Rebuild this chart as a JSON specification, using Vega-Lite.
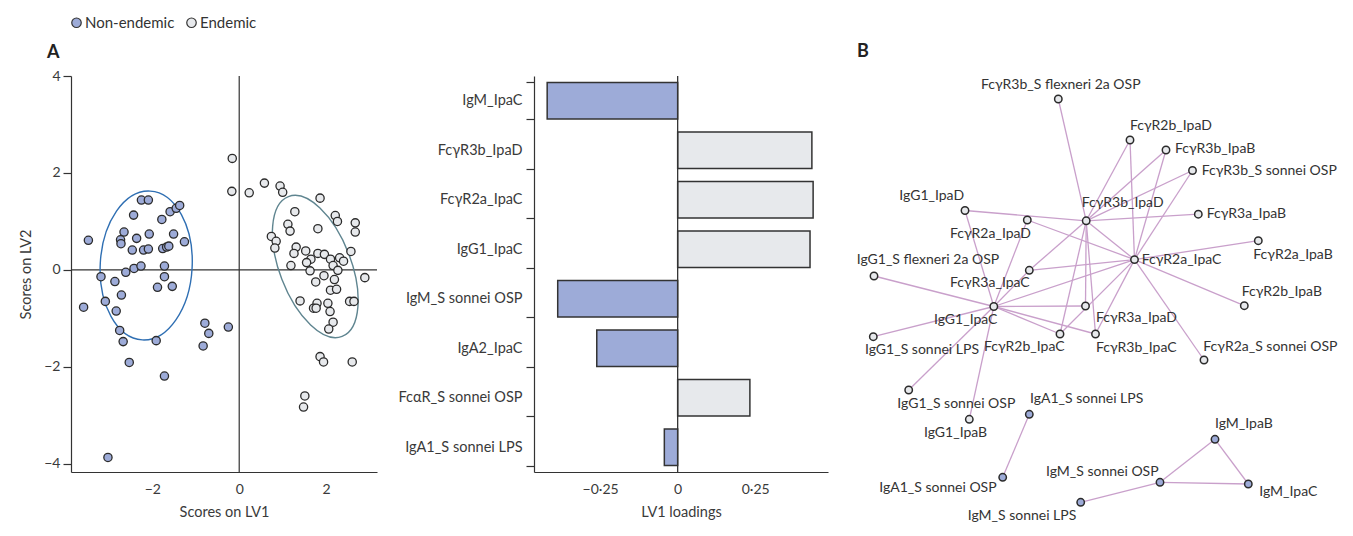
{
  "$schema": "https://vega.github.io/schema/vega-lite/v6.json",
  "background": "white",
  "padding": {"left": 18, "top": 15, "right": 5, "bottom": 5},
  "autosize": {"type": "pad"},
  "config": {
    "font": "Lato",
    "view": {"stroke": null},
    "axis": {"labelFont": "Lato", "titleFont": "Lato", "labelColor": "#3a3a3a", "titleColor": "#3a3a3a", "domainColor": "#333333", "tickColor": "#333333", "domainWidth": 1.2, "tickWidth": 1.2, "grid": false, "labelFontSize": 14, "titleFontSize": 14.5, "titleFontWeight": "normal"}
  },
  "datasets": {
    "scores": [
      {"lv1": -3.47, "lv2": 0.61, "group": "Non-endemic"},
      {"lv1": -2.25, "lv2": 1.44, "group": "Non-endemic"},
      {"lv1": -2.09, "lv2": 1.44, "group": "Non-endemic"},
      {"lv1": -2.43, "lv2": 1.13, "group": "Non-endemic"},
      {"lv1": -1.78, "lv2": 1.04, "group": "Non-endemic"},
      {"lv1": -1.59, "lv2": 1.2, "group": "Non-endemic"},
      {"lv1": -1.45, "lv2": 1.27, "group": "Non-endemic"},
      {"lv1": -1.37, "lv2": 1.33, "group": "Non-endemic"},
      {"lv1": -2.65, "lv2": 0.78, "group": "Non-endemic"},
      {"lv1": -2.73, "lv2": 0.62, "group": "Non-endemic"},
      {"lv1": -2.72, "lv2": 0.54, "group": "Non-endemic"},
      {"lv1": -2.36, "lv2": 0.65, "group": "Non-endemic"},
      {"lv1": -2.07, "lv2": 0.74, "group": "Non-endemic"},
      {"lv1": -1.51, "lv2": 0.74, "group": "Non-endemic"},
      {"lv1": -1.26, "lv2": 0.58, "group": "Non-endemic"},
      {"lv1": -2.46, "lv2": 0.41, "group": "Non-endemic"},
      {"lv1": -2.2, "lv2": 0.41, "group": "Non-endemic"},
      {"lv1": -2.09, "lv2": 0.43, "group": "Non-endemic"},
      {"lv1": -1.76, "lv2": 0.44, "group": "Non-endemic"},
      {"lv1": -1.67, "lv2": 0.47, "group": "Non-endemic"},
      {"lv1": -1.62, "lv2": 0.49, "group": "Non-endemic"},
      {"lv1": -3.18, "lv2": -0.14, "group": "Non-endemic"},
      {"lv1": -2.61, "lv2": -0.05, "group": "Non-endemic"},
      {"lv1": -2.42, "lv2": 0.03, "group": "Non-endemic"},
      {"lv1": -2.26, "lv2": 0.08, "group": "Non-endemic"},
      {"lv1": -1.72, "lv2": 0.08, "group": "Non-endemic"},
      {"lv1": -1.72, "lv2": -0.14, "group": "Non-endemic"},
      {"lv1": -2.86, "lv2": -0.24, "group": "Non-endemic"},
      {"lv1": -1.88, "lv2": -0.36, "group": "Non-endemic"},
      {"lv1": -1.54, "lv2": -0.34, "group": "Non-endemic"},
      {"lv1": -2.71, "lv2": -0.52, "group": "Non-endemic"},
      {"lv1": -3.08, "lv2": -0.65, "group": "Non-endemic"},
      {"lv1": -3.58, "lv2": -0.77, "group": "Non-endemic"},
      {"lv1": -2.83, "lv2": -0.85, "group": "Non-endemic"},
      {"lv1": -2.75, "lv2": -1.25, "group": "Non-endemic"},
      {"lv1": -2.67, "lv2": -1.48, "group": "Non-endemic"},
      {"lv1": -2.53, "lv2": -1.91, "group": "Non-endemic"},
      {"lv1": -1.91, "lv2": -1.46, "group": "Non-endemic"},
      {"lv1": -1.72, "lv2": -2.19, "group": "Non-endemic"},
      {"lv1": -3.02, "lv2": -3.87, "group": "Non-endemic"},
      {"lv1": -0.79, "lv2": -1.1, "group": "Non-endemic"},
      {"lv1": -0.7, "lv2": -1.31, "group": "Non-endemic"},
      {"lv1": -0.83, "lv2": -1.57, "group": "Non-endemic"},
      {"lv1": -0.25, "lv2": -1.18, "group": "Non-endemic"},
      {"lv1": -0.16, "lv2": 2.3, "group": "Endemic"},
      {"lv1": -0.17, "lv2": 1.62, "group": "Endemic"},
      {"lv1": 0.23, "lv2": 1.59, "group": "Endemic"},
      {"lv1": 0.58, "lv2": 1.79, "group": "Endemic"},
      {"lv1": 0.94, "lv2": 1.73, "group": "Endemic"},
      {"lv1": 1.0, "lv2": 1.6, "group": "Endemic"},
      {"lv1": 1.86, "lv2": 1.48, "group": "Endemic"},
      {"lv1": 1.28, "lv2": 1.2, "group": "Endemic"},
      {"lv1": 2.21, "lv2": 1.12, "group": "Endemic"},
      {"lv1": 2.26, "lv2": 1.0, "group": "Endemic"},
      {"lv1": 2.67, "lv2": 0.97, "group": "Endemic"},
      {"lv1": 2.67, "lv2": 0.78, "group": "Endemic"},
      {"lv1": 1.12, "lv2": 0.94, "group": "Endemic"},
      {"lv1": 1.17, "lv2": 0.8, "group": "Endemic"},
      {"lv1": 1.81, "lv2": 0.85, "group": "Endemic"},
      {"lv1": 0.74, "lv2": 0.69, "group": "Endemic"},
      {"lv1": 0.85, "lv2": 0.59, "group": "Endemic"},
      {"lv1": 0.82, "lv2": 0.45, "group": "Endemic"},
      {"lv1": 1.31, "lv2": 0.47, "group": "Endemic"},
      {"lv1": 1.26, "lv2": 0.34, "group": "Endemic"},
      {"lv1": 1.53, "lv2": 0.39, "group": "Endemic"},
      {"lv1": 1.81, "lv2": 0.34, "group": "Endemic"},
      {"lv1": 1.96, "lv2": 0.32, "group": "Endemic"},
      {"lv1": 1.65, "lv2": 0.22, "group": "Endemic"},
      {"lv1": 1.55, "lv2": 0.15, "group": "Endemic"},
      {"lv1": 2.1, "lv2": 0.22, "group": "Endemic"},
      {"lv1": 2.31, "lv2": 0.25, "group": "Endemic"},
      {"lv1": 2.4, "lv2": 0.18, "group": "Endemic"},
      {"lv1": 2.57, "lv2": 0.38, "group": "Endemic"},
      {"lv1": 1.19, "lv2": 0.09, "group": "Endemic"},
      {"lv1": 2.16, "lv2": 0.09, "group": "Endemic"},
      {"lv1": 1.63, "lv2": -0.02, "group": "Endemic"},
      {"lv1": 2.27, "lv2": -0.01, "group": "Endemic"},
      {"lv1": 1.95, "lv2": -0.12, "group": "Endemic"},
      {"lv1": 2.19, "lv2": -0.2, "group": "Endemic"},
      {"lv1": 1.76, "lv2": -0.25, "group": "Endemic"},
      {"lv1": 2.89, "lv2": -0.16, "group": "Endemic"},
      {"lv1": 2.1, "lv2": -0.42, "group": "Endemic"},
      {"lv1": 2.24, "lv2": -0.4, "group": "Endemic"},
      {"lv1": 1.4, "lv2": -0.64, "group": "Endemic"},
      {"lv1": 1.79, "lv2": -0.69, "group": "Endemic"},
      {"lv1": 1.71, "lv2": -0.79, "group": "Endemic"},
      {"lv1": 1.77, "lv2": -0.79, "group": "Endemic"},
      {"lv1": 2.04, "lv2": -0.69, "group": "Endemic"},
      {"lv1": 2.09, "lv2": -0.86, "group": "Endemic"},
      {"lv1": 2.54, "lv2": -0.65, "group": "Endemic"},
      {"lv1": 2.64, "lv2": -0.65, "group": "Endemic"},
      {"lv1": 2.16, "lv2": -1.08, "group": "Endemic"},
      {"lv1": 2.06, "lv2": -1.22, "group": "Endemic"},
      {"lv1": 1.86, "lv2": -1.79, "group": "Endemic"},
      {"lv1": 1.94, "lv2": -1.9, "group": "Endemic"},
      {"lv1": 2.6, "lv2": -1.9, "group": "Endemic"},
      {"lv1": 1.51, "lv2": -2.6, "group": "Endemic"},
      {"lv1": 1.48, "lv2": -2.83, "group": "Endemic"}
    ],
    "ellipses": [
      {"lv1": -2.14, "lv2": 0.09, "group": "Non-endemic"},
      {"lv1": 1.75, "lv2": 0.07, "group": "Endemic"}
    ],
    "loadings": [
      {"feature": "IgM_IpaC", "loading": -0.421, "assoc": "Non-endemic"},
      {"feature": "FcγR3b_IpaD", "loading": 0.433, "assoc": "Endemic"},
      {"feature": "FcγR2a_IpaC", "loading": 0.437, "assoc": "Endemic"},
      {"feature": "IgG1_IpaC", "loading": 0.427, "assoc": "Endemic"},
      {"feature": "IgM_S sonnei OSP", "loading": -0.387, "assoc": "Non-endemic"},
      {"feature": "IgA2_IpaC", "loading": -0.261, "assoc": "Non-endemic"},
      {"feature": "FcαR_S sonnei OSP", "loading": 0.233, "assoc": "Endemic"},
      {"feature": "IgA1_S sonnei LPS", "loading": -0.043, "assoc": "Non-endemic"}
    ],
    "nodes": [
      {"id": "FcγR3b_S flexneri 2a OSP", "x": 20.83, "y": 42.1, "lx": 13.1, "ly": 43.5, "group": "Endemic"},
      {"id": "FcγR2b_IpaD", "x": 28.0, "y": 38.0, "lx": 28.0, "ly": 39.43, "group": "Endemic"},
      {"id": "FcγR3b_IpaB", "x": 31.6, "y": 37.0, "lx": 32.5, "ly": 37.07, "group": "Endemic"},
      {"id": "FcγR3b_S sonnei OSP", "x": 34.25, "y": 34.95, "lx": 35.17, "ly": 34.93, "group": "Endemic"},
      {"id": "IgG1_IpaD", "x": 11.5, "y": 30.95, "lx": 4.93, "ly": 32.43, "group": "Endemic"},
      {"id": "FcγR3b_IpaD", "x": 23.62, "y": 29.92, "lx": 23.17, "ly": 31.67, "group": "Endemic"},
      {"id": "FcγR2a_IpaD", "x": 17.73, "y": 30.0, "lx": 10.0, "ly": 28.6, "group": "Endemic"},
      {"id": "FcγR3a_IpaB", "x": 34.83, "y": 30.58, "lx": 35.67, "ly": 30.57, "group": "Endemic"},
      {"id": "FcγR2a_IpaB", "x": 40.83, "y": 27.93, "lx": 40.33, "ly": 26.47, "group": "Endemic"},
      {"id": "FcγR2a_IpaC", "x": 28.45, "y": 26.04, "lx": 29.17, "ly": 26.0, "group": "Endemic"},
      {"id": "IgG1_S flexneri 2a OSP", "x": 2.4, "y": 24.4, "lx": 0.67, "ly": 26.0, "group": "Endemic"},
      {"id": "FcγR3a_IpaC", "x": 17.93, "y": 24.97, "lx": 10.0, "ly": 23.67, "group": "Endemic"},
      {"id": "FcγR2b_IpaB", "x": 39.43, "y": 21.43, "lx": 39.17, "ly": 22.83, "group": "Endemic"},
      {"id": "IgG1_IpaC", "x": 14.38, "y": 21.35, "lx": 8.4, "ly": 20.0, "group": "Endemic"},
      {"id": "FcγR3a_IpaD", "x": 23.55, "y": 21.4, "lx": 24.6, "ly": 20.17, "group": "Endemic"},
      {"id": "FcγR2b_IpaC", "x": 21.0, "y": 18.6, "lx": 13.4, "ly": 17.27, "group": "Endemic"},
      {"id": "FcγR3b_IpaC", "x": 24.55, "y": 18.6, "lx": 24.6, "ly": 17.17, "group": "Endemic"},
      {"id": "IgG1_S sonnei LPS", "x": 2.33, "y": 18.33, "lx": 1.5, "ly": 17.0, "group": "Endemic"},
      {"id": "FcγR2a_S sonnei OSP", "x": 35.4, "y": 16.0, "lx": 35.33, "ly": 17.33, "group": "Endemic"},
      {"id": "IgG1_S sonnei OSP", "x": 5.87, "y": 13.0, "lx": 4.73, "ly": 11.6, "group": "Endemic"},
      {"id": "IgG1_IpaB", "x": 11.93, "y": 10.07, "lx": 7.4, "ly": 8.73, "group": "Endemic"},
      {"id": "IgA1_S sonnei LPS", "x": 17.93, "y": 10.57, "lx": 18.0, "ly": 12.1, "group": "Non-endemic"},
      {"id": "IgM_IpaB", "x": 36.5, "y": 8.07, "lx": 36.5, "ly": 9.57, "group": "Non-endemic"},
      {"id": "IgA1_S sonnei OSP", "x": 15.27, "y": 4.27, "lx": 2.93, "ly": 3.17, "group": "Non-endemic"},
      {"id": "IgM_S sonnei OSP", "x": 31.0, "y": 3.77, "lx": 19.6, "ly": 4.83, "group": "Non-endemic"},
      {"id": "IgM_IpaC", "x": 39.83, "y": 3.6, "lx": 40.93, "ly": 2.77, "group": "Non-endemic"},
      {"id": "IgM_S sonnei LPS", "x": 23.07, "y": 1.77, "lx": 11.77, "ly": 0.43, "group": "Non-endemic"}
    ],
    "edges": [
      {"s": "FcγR3b_S flexneri 2a OSP", "t": "FcγR3b_IpaD"},
      {"s": "FcγR2b_IpaD", "t": "FcγR3b_IpaD"},
      {"s": "FcγR2b_IpaD", "t": "FcγR2a_IpaC"},
      {"s": "FcγR3b_IpaB", "t": "FcγR3b_IpaD"},
      {"s": "FcγR3b_IpaB", "t": "FcγR2a_IpaC"},
      {"s": "FcγR3b_S sonnei OSP", "t": "FcγR3b_IpaD"},
      {"s": "FcγR3b_S sonnei OSP", "t": "FcγR2a_IpaC"},
      {"s": "FcγR3a_IpaB", "t": "FcγR3b_IpaD"},
      {"s": "IgG1_IpaD", "t": "FcγR3b_IpaD"},
      {"s": "IgG1_IpaD", "t": "IgG1_IpaC"},
      {"s": "FcγR2a_IpaD", "t": "FcγR2a_IpaC"},
      {"s": "FcγR2a_IpaD", "t": "IgG1_IpaC"},
      {"s": "FcγR3b_IpaD", "t": "FcγR2a_IpaC"},
      {"s": "FcγR3b_IpaD", "t": "FcγR3a_IpaC"},
      {"s": "FcγR3a_IpaC", "t": "IgG1_IpaC"},
      {"s": "FcγR3b_IpaD", "t": "FcγR3a_IpaD"},
      {"s": "FcγR3b_IpaD", "t": "FcγR2b_IpaC"},
      {"s": "FcγR3b_IpaD", "t": "FcγR3b_IpaC"},
      {"s": "FcγR3a_IpaC", "t": "FcγR2a_IpaC"},
      {"s": "FcγR2a_IpaC", "t": "FcγR2a_IpaB"},
      {"s": "FcγR2a_IpaC", "t": "FcγR2b_IpaB"},
      {"s": "FcγR2a_IpaC", "t": "FcγR2a_S sonnei OSP"},
      {"s": "FcγR2a_IpaC", "t": "FcγR3b_IpaC"},
      {"s": "FcγR2a_IpaC", "t": "FcγR2b_IpaC"},
      {"s": "FcγR2a_IpaC", "t": "IgG1_IpaC"},
      {"s": "IgG1_IpaC", "t": "FcγR3a_IpaD"},
      {"s": "IgG1_IpaC", "t": "FcγR2b_IpaC"},
      {"s": "IgG1_IpaC", "t": "FcγR3b_IpaC"},
      {"s": "IgG1_IpaC", "t": "IgG1_S flexneri 2a OSP"},
      {"s": "IgG1_IpaC", "t": "IgG1_S sonnei LPS"},
      {"s": "IgG1_IpaC", "t": "IgG1_S sonnei OSP"},
      {"s": "IgG1_IpaC", "t": "IgG1_IpaB"},
      {"s": "IgA1_S sonnei LPS", "t": "IgA1_S sonnei OSP"},
      {"s": "IgM_IpaB", "t": "IgM_S sonnei OSP"},
      {"s": "IgM_IpaB", "t": "IgM_IpaC"},
      {"s": "IgM_S sonnei OSP", "t": "IgM_IpaC"},
      {"s": "IgM_S sonnei OSP", "t": "IgM_S sonnei LPS"}
    ]
  },
  "hconcat": [
    {
      "width": 306,
      "height": 396,
      "title": {"text": "A", "anchor": "start", "frame": "group", "dx": -24, "offset": -11, "baseline": "bottom", "fontSize": 18, "fontWeight": "bold", "color": "#222222", "font": "Lato"},
      "layer": [
        {
          "data": {"values": [{"lv1": 0, "lv2": 0}]},
          "mark": {"type": "rule", "color": "#333333", "strokeWidth": 1.2},
          "encoding": {
            "y": {"field": "lv2", "type": "quantitative", "scale": {"domain": [-4.17, 4], "nice": false, "zero": false}, "axis": {"values": [-4, -2, 0, 2, 4], "tickSize": 8, "labelPadding": 3, "title": "Scores on LV2", "titlePadding": 10}}
          }
        },
        {
          "data": {"values": [{"lv1": 0, "lv2": 0}]},
          "mark": {"type": "rule", "color": "#333333", "strokeWidth": 1.2},
          "encoding": {
            "x": {"field": "lv1", "type": "quantitative", "scale": {"domain": [-3.87, 3.17], "nice": false, "zero": false}, "axis": {"values": [-2, 0, 2], "ticks": false, "tickSize": 0, "labelPadding": 10, "title": "Scores on LV1", "titlePadding": 9}}
          }
        },
        {
          "data": {"name": "ellipses"},
          "transform": [{"filter": "datum.group == 'Non-endemic'"}],
          "mark": {"type": "point", "shape": "M0,-1C0.341,-1 0.617,-0.552 0.617,0C0.617,0.552 0.341,1 0,1C-0.341,1 -0.617,0.552 -0.617,0C-0.617,-0.552 -0.341,-1 0,-1Z", "size": 22201, "angle": 3, "filled": false, "stroke": "#2f6fb3", "strokeWidth": 1.4, "opacity": 1},
          "encoding": {
            "x": {"field": "lv1", "type": "quantitative", "scale": {"domain": [-3.87, 3.17], "nice": false, "zero": false}, "axis": {"values": [-2, 0, 2], "ticks": false, "tickSize": 0, "labelPadding": 10, "title": "Scores on LV1", "titlePadding": 9}},
            "y": {"field": "lv2", "type": "quantitative", "scale": {"domain": [-4.17, 4], "nice": false, "zero": false}, "axis": {"values": [-4, -2, 0, 2, 4], "tickSize": 8, "labelPadding": 3, "title": "Scores on LV2", "titlePadding": 10}}
          }
        },
        {
          "data": {"name": "ellipses"},
          "transform": [{"filter": "datum.group == 'Endemic'"}],
          "mark": {"type": "point", "shape": "M0,-1C0.264,-1 0.478,-0.552 0.478,0C0.478,0.552 0.264,1 0,1C-0.264,1 -0.478,0.552 -0.478,0C-0.478,-0.552 -0.264,-1 0,-1Z", "size": 22440, "angle": 339, "filled": false, "stroke": "#5f8590", "strokeWidth": 1.4, "opacity": 1},
          "encoding": {
            "x": {"field": "lv1", "type": "quantitative", "scale": {"domain": [-3.87, 3.17], "nice": false, "zero": false}, "axis": {"values": [-2, 0, 2], "ticks": false, "tickSize": 0, "labelPadding": 10, "title": "Scores on LV1", "titlePadding": 9}},
            "y": {"field": "lv2", "type": "quantitative", "scale": {"domain": [-4.17, 4], "nice": false, "zero": false}, "axis": {"values": [-4, -2, 0, 2, 4], "tickSize": 8, "labelPadding": 3, "title": "Scores on LV2", "titlePadding": 10}}
          }
        },
        {
          "data": {"name": "scores"},
          "mark": {"type": "circle", "size": 68, "stroke": "#2b2b2b", "strokeWidth": 1.3, "opacity": 1},
          "encoding": {
            "x": {"field": "lv1", "type": "quantitative", "scale": {"domain": [-3.87, 3.17], "nice": false, "zero": false}, "axis": {"values": [-2, 0, 2], "ticks": false, "tickSize": 0, "labelPadding": 10, "title": "Scores on LV1", "titlePadding": 9}},
            "y": {"field": "lv2", "type": "quantitative", "scale": {"domain": [-4.17, 4], "nice": false, "zero": false}, "axis": {"values": [-4, -2, 0, 2, 4], "tickSize": 8, "labelPadding": 3, "title": "Scores on LV2", "titlePadding": 10}},
            "fill": {"field": "group", "type": "nominal", "scale": {"domain": ["Non-endemic", "Endemic"], "range": ["#9dabd8", "#e7e9ec"]}, "legend": null}
          }
        }
      ]
    },
    {
      "width": 294,
      "height": 396,
      "layer": [
        {
          "data": {"name": "loadings"},
          "mark": {"type": "bar", "stroke": "#333333", "strokeWidth": 1.5},
          "encoding": {
            "y": {"field": "feature", "type": "nominal", "sort": null, "scale": {"paddingInner": 0.26, "paddingOuter": 0.13}, "axis": {"title": null, "tickBand": "extent", "tickSize": 8, "labelPadding": 4, "labelFontSize": 14.5}},
            "x": {"field": "loading", "type": "quantitative", "scale": {"domain": [-0.4635, 0.485], "nice": false}, "axis": {"values": [-0.25, 0, 0.25], "ticks": false, "tickSize": 0, "labelPadding": 10, "title": "LV1 loadings", "titlePadding": 9, "labelExpr": "datum.value == 0 ? '0' : replace(format(datum.value, '.2f'), '.', '·')"}},
            "fill": {"field": "assoc", "type": "nominal", "scale": {"domain": ["Non-endemic", "Endemic"], "range": ["#9dabd8", "#e7e9ec"]}, "legend": {"title": null, "orient": "none", "legendX": -465, "legendY": -61, "direction": "horizontal", "labelFontSize": 15, "labelColor": "#333333", "labelFont": "Lato", "symbolType": "circle", "symbolSize": 90, "symbolStrokeColor": "#333333", "symbolStrokeWidth": 1.2, "symbolOpacity": 1, "columnPadding": 9, "labelOffset": 1, "padding": 0}}
          }
        },
        {
          "data": {"values": [{"loading": 0}]},
          "mark": {"type": "rule", "color": "#333333", "strokeWidth": 1.3},
          "encoding": {
            "x": {"field": "loading", "type": "quantitative", "scale": {"domain": [-0.4635, 0.485], "nice": false}, "axis": {"values": [-0.25, 0, 0.25], "ticks": false, "tickSize": 0, "labelPadding": 10, "title": "LV1 loadings", "titlePadding": 9, "labelExpr": "datum.value == 0 ? '0' : replace(format(datum.value, '.2f'), '.', '·')"}}
          }
        }
      ]
    },
    {
      "width": 355,
      "height": 444,
      "title": {"text": "B", "anchor": "start", "frame": "group", "dx": -128, "offset": -3, "baseline": "bottom", "fontSize": 18, "fontWeight": "bold", "color": "#222222", "font": "Lato"},
      "layer": [
        {
          "data": {"name": "edges"},
          "transform": [
            {"lookup": "s", "from": {"data": {"name": "nodes"}, "key": "id", "fields": ["x", "y"]}, "as": ["sx", "sy"]},
            {"lookup": "t", "from": {"data": {"name": "nodes"}, "key": "id", "fields": ["x", "y"]}, "as": ["tx", "ty"]}
          ],
          "mark": {"type": "rule", "color": "#c9a0cb", "strokeWidth": 1.3},
          "encoding": {
            "x": {"field": "sx", "type": "quantitative", "scale": {"domain": [13.5, 49], "nice": false, "zero": false}, "axis": null},
            "y": {"field": "sy", "type": "quantitative", "scale": {"domain": [0, 44.4], "nice": false, "zero": false}, "axis": null},
            "x2": {"field": "tx"},
            "y2": {"field": "ty"}
          }
        },
        {
          "data": {"name": "nodes"},
          "mark": {"type": "circle", "size": 55, "stroke": "#2b2b2b", "strokeWidth": 1.5, "opacity": 1},
          "encoding": {
            "x": {"field": "x", "type": "quantitative", "scale": {"domain": [13.5, 49], "nice": false, "zero": false}, "axis": null},
            "y": {"field": "y", "type": "quantitative", "scale": {"domain": [0, 44.4], "nice": false, "zero": false}, "axis": null},
            "fill": {"condition": {"test": "datum.group == 'Non-endemic'", "value": "#9dabd8"}, "value": "#e7e9ec"}
          }
        },
        {
          "data": {"name": "nodes"},
          "mark": {"type": "text", "align": "left", "baseline": "middle", "fontSize": 14, "font": "Lato", "color": "#333333"},
          "encoding": {
            "x": {"field": "lx", "type": "quantitative", "scale": {"domain": [13.5, 49], "nice": false, "zero": false}, "axis": null},
            "y": {"field": "ly", "type": "quantitative", "scale": {"domain": [0, 44.4], "nice": false, "zero": false}, "axis": null},
            "text": {"field": "id"}
          }
        }
      ]
    }
  ],
  "spacing": 157,
  "bounds": "flush",
  "resolve": {"scale": {"fill": "independent"}, "legend": {"fill": "independent"}}
}
